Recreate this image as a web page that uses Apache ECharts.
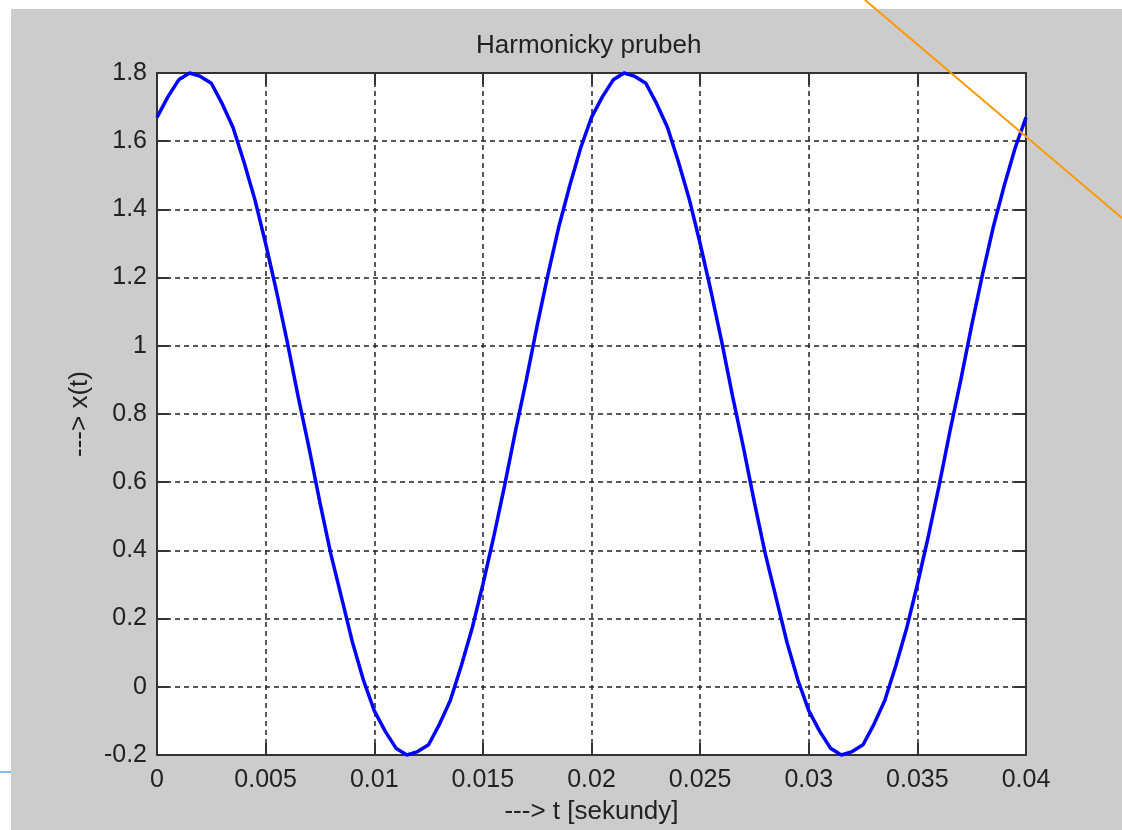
<!DOCTYPE html>
<html>
<head>
<meta charset="utf-8">
<script src="https://cdn.jsdelivr.net/npm/echarts@6/dist/echarts.min.js"></script>
<style>
    html, body { margin: 0; padding: 0; background: #ffffff; }
    #figure { position: absolute; left: 11px; top: 9px; width: 1111px; height: 821px; background: #cccccc; }
    #chart { position: absolute; left: 0; top: 0; width: 1122px; height: 830px; }
</style>
</head>
<body>
<div id="figure"></div>
<div id="chart"></div>
<script>
    // casove okamziky [s]
    var tValues = [
        0, 0.0005, 0.001, 0.0015, 0.002, 0.0025, 0.003, 0.0035, 0.004, 0.0045,
        0.005, 0.0055, 0.006, 0.0065, 0.007, 0.0075, 0.008, 0.0085, 0.009, 0.0095,
        0.01, 0.0105, 0.011, 0.0115, 0.012, 0.0125, 0.013, 0.0135, 0.014, 0.0145,
        0.015, 0.0155, 0.016, 0.0165, 0.017, 0.0175, 0.018, 0.0185, 0.019, 0.0195,
        0.02, 0.0205, 0.021, 0.0215, 0.022, 0.0225, 0.023, 0.0235, 0.024, 0.0245,
        0.025, 0.0255, 0.026, 0.0265, 0.027, 0.0275, 0.028, 0.0285, 0.029, 0.0295,
        0.03, 0.0305, 0.031, 0.0315, 0.032, 0.0325, 0.033, 0.0335, 0.034, 0.0345,
        0.035, 0.0355, 0.036, 0.0365, 0.037, 0.0375, 0.038, 0.0385, 0.039, 0.0395,
        0.04
    ];
    // x(t)
    var xValues = [
        1.67, 1.73, 1.78, 1.80, 1.79, 1.77, 1.71, 1.64, 1.54, 1.43,
        1.30, 1.16, 1.01, 0.85, 0.70, 0.54, 0.39, 0.26, 0.13, 0.02,
        -0.07, -0.13, -0.18, -0.20, -0.19, -0.17, -0.11, -0.04, 0.06, 0.17,
        0.30, 0.44, 0.59, 0.75, 0.90, 1.06, 1.21, 1.35, 1.47, 1.58,
        1.67, 1.73, 1.78, 1.80, 1.79, 1.77, 1.71, 1.64, 1.54, 1.43,
        1.30, 1.16, 1.01, 0.85, 0.70, 0.54, 0.39, 0.26, 0.13, 0.02,
        -0.07, -0.13, -0.18, -0.20, -0.19, -0.17, -0.11, -0.04, 0.06, 0.17,
        0.30, 0.44, 0.59, 0.75, 0.90, 1.06, 1.21, 1.35, 1.47, 1.58,
        1.67
    ];
    var xTicks = [0, 0.005, 0.01, 0.015, 0.02, 0.025, 0.03, 0.035, 0.04];
    var yTicks = [-0.2, 0, 0.2, 0.4, 0.6, 0.8, 1, 1.2, 1.4, 1.6, 1.8];

    var font = '"Liberation Sans", Arial, sans-serif';
    var textColor = '#222222';

    var chart = echarts.init(document.getElementById('chart'));

    function axisBase(pos, ticks, main) {
        return {
            type: 'value',
            position: pos,
            min: ticks[0],
            max: ticks[ticks.length - 1],
            interval: ticks[1] - ticks[0],
            axisLine: { show: true, onZero: false, lineStyle: { color: '#333333', width: 2 } },
            axisTick: { show: true, inside: true, length: 12, lineStyle: { color: '#333333', width: 2 } },
            axisLabel: {
                show: main,
                margin: pos === 'bottom' ? 13 : 10,
                color: textColor,
                fontSize: 25,
                fontFamily: font
            },
            splitLine: {
                show: main,
                lineStyle: { color: '#222222', width: 1.5, type: [5, 4] }
            }
        };
    }

    var xMain = axisBase('bottom', xTicks, true);
    xMain.name = '---> t [sekundy]';
    xMain.nameLocation = 'middle';
    xMain.nameGap = 44;
    xMain.nameTextStyle = { color: textColor, fontSize: 26, fontFamily: font };

    var yMain = axisBase('left', yTicks, true);
    yMain.name = '---> x(t)';
    yMain.nameLocation = 'middle';
    yMain.nameGap = 62;
    yMain.nameTextStyle = { color: textColor, fontSize: 26, fontFamily: font };

    var option = {
        animation: false,
        title: {
            text: 'Harmonicky prubeh',
            left: 471,
            top: 28,
            textStyle: { color: textColor, fontSize: 26, fontWeight: 'normal', fontFamily: font }
        },
        grid: {
            left: 157,
            top: 73,
            width: 869,
            height: 685,
            show: true,
            backgroundColor: '#ffffff',
            borderWidth: 0
        },
        xAxis: [xMain, axisBase('top', xTicks, false)],
        yAxis: [yMain, axisBase('right', yTicks, false)],
        graphic: [
            {
                type: 'line',
                z: 100,
                shape: { x1: 865, y1: 0, x2: 1122, y2: 218 },
                style: { stroke: '#ff9900', lineWidth: 2 }
            },
            {
                type: 'line',
                z: 100,
                shape: { x1: 0, y1: 772, x2: 11, y2: 772 },
                style: { stroke: '#5b9fe3', lineWidth: 1.5 }
            }
        ],
        series: [
            {
                name: 'x(t)',
                type: 'line',
                xAxisIndex: 0,
                yAxisIndex: 0,
                showSymbol: false,
                clip: false,
                data: tValues.map(function (t, i) { return [t, xValues[i]]; }),
                lineStyle: { color: '#0000ff', width: 3.5 }
            }
        ]
    };

    chart.setOption(option);
</script>
</body>
</html>
